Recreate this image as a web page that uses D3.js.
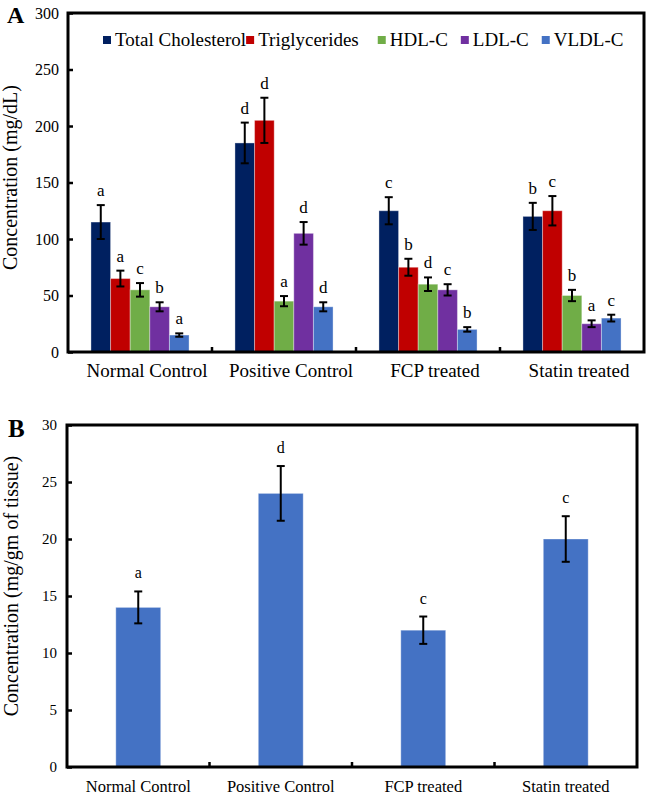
<!DOCTYPE html>
<html lang="en">
<head>
    <meta charset="UTF-8">
    <title>Lipid profile</title>
    <script src="https://d3js.org/d3.v7.min.js"></script>
    <style>
        body { margin: 0; background: #fff; }
        text { font-family: "Liberation Serif", "Times New Roman", serif; fill: #000; }
    </style>
</head>
<body>
    <svg id="chart" width="646" height="797"></svg>
    <script>
        // ---- data ----
        const groups = ["Normal Control", "Positive Control", "FCP treated", "Statin treated"];
        const lipidSeries = ["Total Cholesterol", "Triglycerides", "HDL-C", "LDL-C", "VLDL-C"];
        const lipidColors = ["#002060", "#c00000", "#70ad47", "#7030a0", "#4472c4"];
        // values per series, in group order
        const lipidValues = [
            [115, 185, 125, 120],
            [65, 205, 75, 125],
            [55, 45, 60, 50],
            [40, 105, 55, 25],
            [15, 40, 20, 30]
        ];
        const lipidErrors = [
            [15, 18, 12, 12],
            [7, 20, 7.5, 13],
            [6, 4.5, 6, 5],
            [4, 10, 5, 3],
            [1.5, 4, 2, 3]
        ];
        const lipidLetters = [
            ["a", "d", "c", "b"],
            ["a", "d", "b", "c"],
            ["c", "a", "d", "b"],
            ["b", "d", "c", "a"],
            ["a", "d", "b", "c"]
        ];
        const lipidTicks = [0, 50, 100, 150, 200, 250, 300];

        const tissueValues = [14, 24, 12, 20];
        const tissueErrors = [1.4, 2.4, 1.2, 2];
        const tissueLetters = ["a", "d", "c", "c"];
        const tissueTicks = [0, 5, 10, 15, 20, 25, 30];

        const svg = d3.select("#chart");

        // ---------- panel A ----------
        const a = { left: 68, top: 13, right: 644, bottom: 352 };
        const gA = svg.append("g");

        const x0 = d3.scaleBand().domain(groups).range([a.left, a.right]).padding(0);
        const x1 = d3.scaleBand().domain(lipidSeries).range([0, x0.bandwidth()])
            .paddingInner(0).paddingOuter(1.17);
        const yA = d3.scaleLinear().domain([0, 300]).range([a.bottom, a.top]);

        const barsA = [];
        lipidSeries.forEach((s, si) => {
            groups.forEach((g, gi) => {
                barsA.push({
                    group: g, series: s, color: lipidColors[si],
                    value: lipidValues[si][gi], err: lipidErrors[si][gi], letter: lipidLetters[si][gi]
                });
            });
        });

        gA.selectAll(".barA")
            .data(barsA)
            .enter().append("rect")
            .attr("class", "barA")
            .attr("x", d => x0(d.group) + x1(d.series))
            .attr("y", d => yA(d.value))
            .attr("width", x1.bandwidth())
            .attr("height", d => yA(0) - yA(d.value))
            .attr("fill", d => d.color)
            .attr("stroke", "rgba(255,255,255,0.35)")
            .attr("stroke-width", 1);

        const errA = gA.selectAll(".errA")
            .data(barsA)
            .enter().append("g")
            .attr("class", "errA")
            .attr("transform", d => `translate(${x0(d.group) + x1(d.series) + x1.bandwidth() / 2},0)`)
            .attr("stroke", "#000")
            .attr("stroke-width", 2);
        errA.append("line")
            .attr("y1", d => yA(d.value + d.err)).attr("y2", d => yA(d.value - d.err));
        errA.append("line").attr("x1", -4).attr("x2", 4)
            .attr("y1", d => yA(d.value + d.err)).attr("y2", d => yA(d.value + d.err));
        errA.append("line").attr("x1", -4).attr("x2", 4)
            .attr("y1", d => yA(d.value - d.err)).attr("y2", d => yA(d.value - d.err));

        gA.selectAll(".letterA")
            .data(barsA)
            .enter().append("text")
            .attr("class", "letterA")
            .attr("x", d => x0(d.group) + x1(d.series) + x1.bandwidth() / 2)
            .attr("y", d => yA(d.value + d.err) - 9)
            .attr("text-anchor", "middle")
            .style("font-size", "17px")
            .text(d => d.letter);

        // axes
        const yAxisA = gA.append("g")
            .attr("transform", `translate(${a.left},0)`)
            .call(d3.axisLeft(yA).tickValues(lipidTicks).tickSizeInner(-5).tickSizeOuter(0).tickPadding(9));
        yAxisA.selectAll("text").style("font-size", "16px").style("font-family", "Liberation Serif");
        yAxisA.selectAll("line").attr("stroke-width", 2.5);
        yAxisA.select(".domain").remove();

        const xAxisA = gA.append("g")
            .attr("transform", `translate(0,${a.bottom})`)
            .call(d3.axisBottom(x0).tickSize(0).tickPadding(11.5));
        xAxisA.select(".domain").remove();
        xAxisA.selectAll("text").style("font-size", "19px").style("font-family", "Liberation Serif").attr("dx", 7);

        gA.selectAll(".sepA")
            .data(groups.slice(1))
            .enter().append("line")
            .attr("x1", d => x0(d)).attr("x2", d => x0(d))
            .attr("y1", a.bottom).attr("y2", a.bottom - 5)
            .attr("stroke", "#000").attr("stroke-width", 2.5);

        gA.append("rect")
            .attr("x", a.left).attr("y", a.top)
            .attr("width", a.right - a.left).attr("height", a.bottom - a.top)
            .attr("fill", "none").attr("stroke", "#000").attr("stroke-width", 3);

        gA.append("text")
            .attr("transform", `translate(17,${(a.top + a.bottom) / 2 - 5}) rotate(-90)`)
            .attr("text-anchor", "middle")
            .style("font-size", "20px")
            .text("Concentration (mg/dL)");

        gA.append("text")
            .attr("x", 7).attr("y", 23)
            .style("font-size", "24px").style("font-weight", "bold")
            .text("A");

        // legend
        const legend = gA.append("g").attr("transform", "translate(103,46)");
        const legendGaps = [0, 19, 13, 13, 0];
        let lx = 0;
        lipidSeries.forEach((s, i) => {
            legend.append("rect")
                .attr("x", lx).attr("y", -10)
                .attr("width", 8).attr("height", 8)
                .attr("fill", lipidColors[i]);
            const t = legend.append("text")
                .attr("x", lx + 12).attr("y", 0)
                .style("font-size", "19px")
                .text(s);
            lx += 12 + t.node().getComputedTextLength() + legendGaps[i];
        });

        // ---------- panel B ----------
        const b = { left: 67, top: 425, right: 637, bottom: 767 };
        const gB = svg.append("g");

        const xB = d3.scaleBand().domain(groups).range([b.left, b.right]).padding(0);
        const barW = xB.bandwidth() * 0.315;
        const yB = d3.scaleLinear().domain([0, 30]).range([b.bottom, b.top]);

        const barsB = groups.map((g, i) => ({
            group: g, value: tissueValues[i], err: tissueErrors[i], letter: tissueLetters[i]
        }));

        gB.selectAll(".barB")
            .data(barsB)
            .enter().append("rect")
            .attr("class", "barB")
            .attr("x", d => xB(d.group) + (xB.bandwidth() - barW) / 2)
            .attr("y", d => yB(d.value))
            .attr("width", barW)
            .attr("height", d => yB(0) - yB(d.value))
            .attr("fill", "#4472c4")
            .attr("stroke", "rgba(255,255,255,0.35)")
            .attr("stroke-width", 1);

        const errB = gB.selectAll(".errB")
            .data(barsB)
            .enter().append("g")
            .attr("class", "errB")
            .attr("transform", d => `translate(${xB(d.group) + xB.bandwidth() / 2},0)`)
            .attr("stroke", "#000")
            .attr("stroke-width", 2);
        errB.append("line")
            .attr("y1", d => yB(d.value + d.err)).attr("y2", d => yB(d.value - d.err));
        errB.append("line").attr("x1", -4).attr("x2", 4)
            .attr("y1", d => yB(d.value + d.err)).attr("y2", d => yB(d.value + d.err));
        errB.append("line").attr("x1", -4).attr("x2", 4)
            .attr("y1", d => yB(d.value - d.err)).attr("y2", d => yB(d.value - d.err));

        gB.selectAll(".letterB")
            .data(barsB)
            .enter().append("text")
            .attr("class", "letterB")
            .attr("x", d => xB(d.group) + xB.bandwidth() / 2)
            .attr("y", d => yB(d.value + d.err) - 13)
            .attr("text-anchor", "middle")
            .style("font-size", "16px")
            .text(d => d.letter);

        const yAxisB = gB.append("g")
            .attr("transform", `translate(${b.left},0)`)
            .call(d3.axisLeft(yB).tickValues(tissueTicks).tickSizeInner(-5).tickSizeOuter(0).tickPadding(10));
        yAxisB.selectAll("text").style("font-size", "15px").style("font-family", "Liberation Serif");
        yAxisB.selectAll("line").attr("stroke-width", 2.5);
        yAxisB.select(".domain").remove();

        const xAxisB = gB.append("g")
            .attr("transform", `translate(0,${b.bottom})`)
            .call(d3.axisBottom(xB).tickSize(0).tickPadding(13));
        xAxisB.select(".domain").remove();
        xAxisB.selectAll("text").style("font-size", "16.5px").style("font-family", "Liberation Serif");

        gB.selectAll(".sepB")
            .data(groups.slice(1))
            .enter().append("line")
            .attr("x1", d => xB(d)).attr("x2", d => xB(d))
            .attr("y1", b.bottom).attr("y2", b.bottom - 5)
            .attr("stroke", "#000").attr("stroke-width", 2.5);

        gB.append("rect")
            .attr("x", b.left).attr("y", b.top)
            .attr("width", b.right - b.left).attr("height", b.bottom - b.top)
            .attr("fill", "none").attr("stroke", "#000").attr("stroke-width", 3);

        gB.append("text")
            .attr("transform", `translate(18,${(b.top + b.bottom) / 2 - 10}) rotate(-90)`)
            .attr("text-anchor", "middle")
            .style("font-size", "20px")
            .text("Concentration (mg/gm of tissue)");

        gB.append("text")
            .attr("x", 8).attr("y", 437)
            .style("font-size", "25px").style("font-weight", "bold")
            .text("B");
    </script>
</body>
</html>
